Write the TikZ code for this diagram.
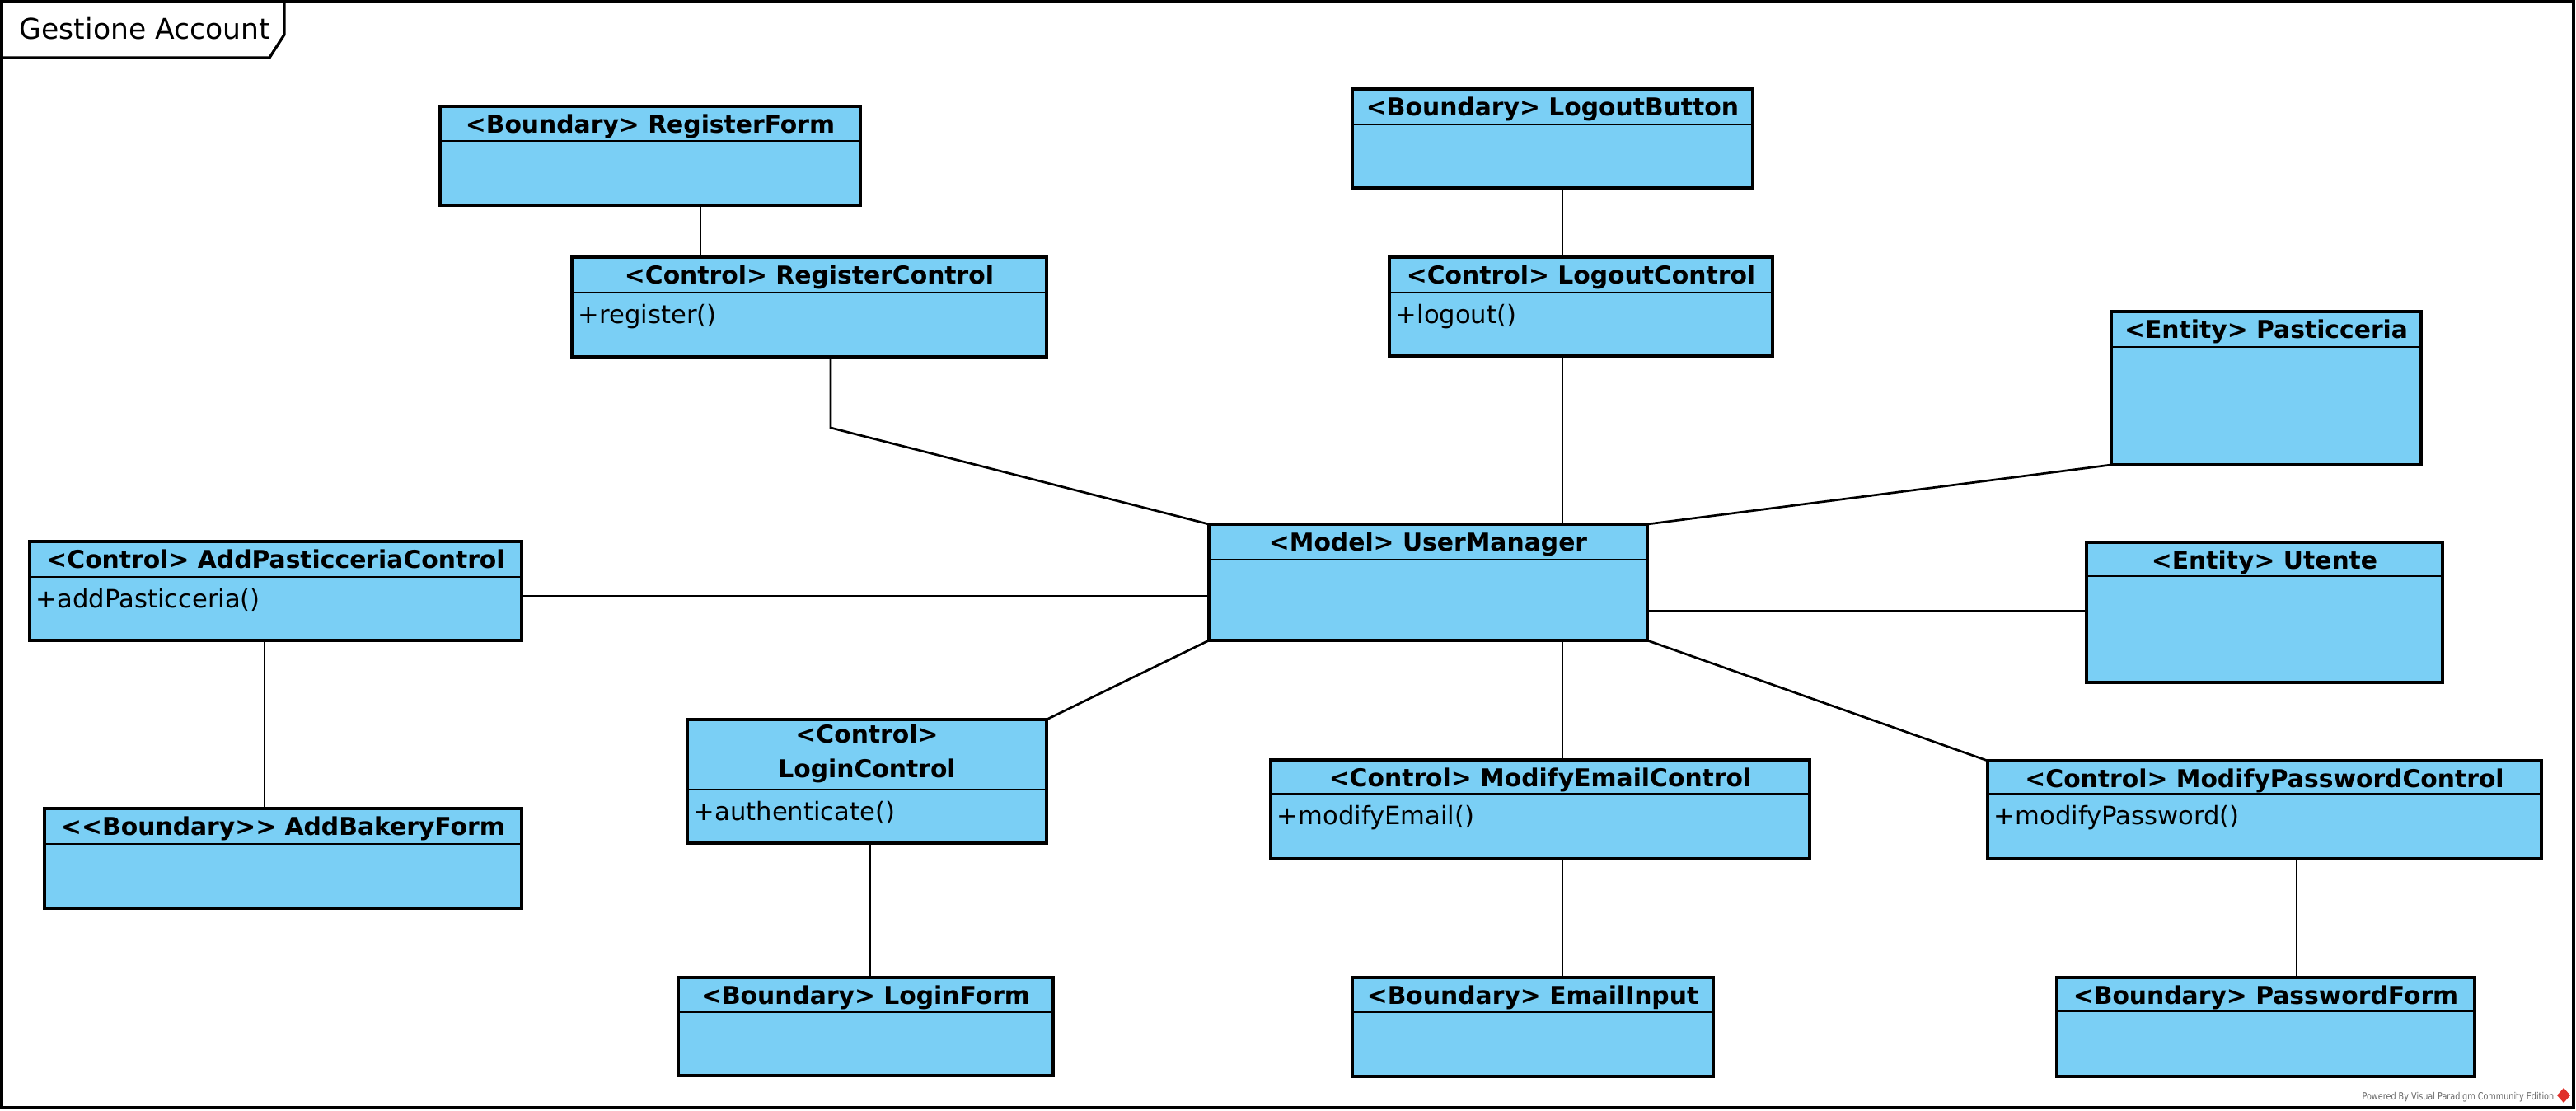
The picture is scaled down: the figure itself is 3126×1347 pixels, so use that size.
\documentclass[tikz,border=0pt]{standalone}
\usepackage{fontspec}
\setmainfont{DejaVu Sans}
\usetikzlibrary{fit}
\definecolor{vpblue}{HTML}{7ACFF5}
\definecolor{vpred}{HTML}{E0302A}
\tikzset{
  cbox/.style={draw=black, fill=vpblue, line width=0.75pt, inner sep=0pt, outer sep=0pt},
  hline/.style={draw=black, line width=0.7pt},
  conn/.style={draw=black, line width=0.65pt},
  frameline/.style={draw=black, line width=0.8pt},
  htext/.style={font=\fontsize{7.15}{10.1}\selectfont\bfseries, inner sep=0pt, anchor=base},
  otext/.style={font=\fontsize{7.35}{9}\selectfont, inner sep=0pt, anchor=base west},
}
% name, left, top, right, header bottom, bottom, title
\newcommand\classbox[7]{%
  \node[cbox, fit={(#2,#3)(#4,#6)}] (#1) {};
  \draw[hline] (#2,#5) -- (#4,#5);
  \node[htext] (#1-name) at ({(#2+#4)/2},{#3+32}) {#7};
}
% name, left, header bottom, text
\newcommand\opline[4]{%
  \node[otext] (#1-ops) at ({#2+7},{#3+37}) {#4};
}
\begin{document}
\begin{tikzpicture}[x=0.24pt, y=-0.24pt]
\useasboundingbox (0,0) rectangle (3126,1347);
\fill[white] (0,0) rectangle (3126,1347);

% package frame
\draw[frameline] (2,2) rectangle (3123,1344);
\draw[frameline] (2,70) -- (327,70) -- (345,42) -- (345,2);
\node[font=\fontsize{8.3}{10}\selectfont, anchor=base west, inner sep=0pt] (title) at (23,48) {Gestione Account};

% classes
\classbox{rf}{534}{129}{1044}{171}{249}{<Boundary> RegisterForm}
\classbox{rc}{694}{312}{1270}{355}{433}{<Control> RegisterControl}
\opline{rc}{694}{355}{+register()}
\classbox{lb}{1641}{108}{2127}{151}{228}{<Boundary> LogoutButton}
\classbox{lc}{1686}{312}{2151}{355}{432}{<Control> LogoutControl}
\opline{lc}{1686}{355}{+logout()}
\classbox{pa}{2562}{378}{2938}{421}{564}{<Entity> Pasticceria}
\classbox{um}{1467}{636}{1999}{679}{777}{<Model> UserManager}
\classbox{ut}{2532}{658}{2964}{699}{828}{<Entity> Utente}
\classbox{apc}{36}{657}{633}{700}{777}{<Control> AddPasticceriaControl}
\opline{apc}{36}{700}{+addPasticceria()}
\classbox{abf}{54}{981}{633}{1024}{1102}{<{}<Boundary>{}> AddBakeryForm}
% login control with two-line header
\node[cbox, fit={(834,873)(1270,1023)}] (lgc) {};
\draw[hline] (834,958) -- (1270,958);
\node[htext, anchor=center, align=center] (lgc-name) at (1052,914.5) {<Control>\\LoginControl};
\opline{lgc}{834}{958}{+authenticate()}
\classbox{lf}{823}{1186}{1278}{1228}{1305}{<Boundary> LoginForm}
\classbox{mec}{1542}{922}{2196}{963}{1042}{<Control> ModifyEmailControl}
\opline{mec}{1542}{963}{+modifyEmail()}
\classbox{ei}{1641}{1186}{2079}{1228}{1306}{<Boundary> EmailInput}
\classbox{mpc}{2412}{923}{3084}{963}{1042}{<Control> ModifyPasswordControl}
\opline{mpc}{2412}{963}{+modifyPassword()}
\classbox{pf}{2496}{1186}{3003}{1227}{1306}{<Boundary> PasswordForm}

% helper coordinates
\coordinate (x850) at (850,0);
\coordinate (x1008) at (1008,0);
\coordinate (bend) at (1008,519);
\coordinate (x1896) at (1896,0);
\coordinate (x321) at (321,0);
\coordinate (x1056) at (1056,0);
\coordinate (x2787) at (2787,0);
\coordinate (y723) at (0,723);
\coordinate (y741) at (0,741);

% connectors
\draw[conn] (rf.south -| x850) -- (rc.north -| x850);
\draw[conn] (rc.south -| x1008) -- (bend) -- (um.north west);
\draw[conn] (lb.south -| x1896) -- (lc.north -| x1896);
\draw[conn] (lc.south -| x1896) -- (um.north -| x1896);
\draw[conn] (um.south -| x1896) -- (mec.north -| x1896);
\draw[conn] (mec.south -| x1896) -- (ei.north -| x1896);
\draw[conn] (pa.south west) -- (um.north east);
\draw[conn] (apc.east |- y723) -- (um.west |- y723);
\draw[conn] (um.east |- y741) -- (ut.west |- y741);
\draw[conn] (lgc.north east) -- (um.south west);
\draw[conn] (um.south east) -- (mpc.north west);
\draw[conn] (apc.south -| x321) -- (abf.north -| x321);
\draw[conn] (lgc.south -| x1056) -- (lf.north -| x1056);
\draw[conn] (mpc.south -| x2787) -- (pf.north -| x2787);

% watermark
\node[font=\fontsize{2.9}{3}\selectfont, text=black!60, anchor=base east, inner sep=0pt] (powered) at (3100,1334) {\scalebox{0.8}[1]{Powered By Visual Paradigm Community Edition}};
\fill[vpred] (3111,1320) -- (3119,1329) -- (3111,1338) -- (3103,1329) -- cycle;
\end{tikzpicture}
\end{document}
